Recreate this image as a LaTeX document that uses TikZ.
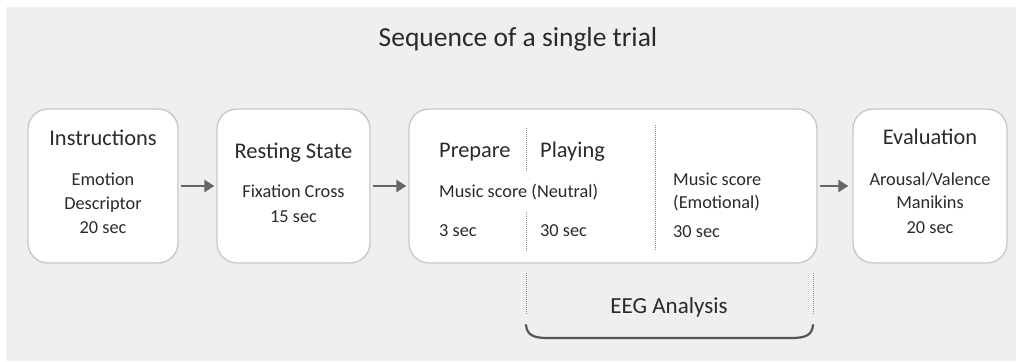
\documentclass[tikz,border=0pt]{standalone}
\usepackage{fontspec}
\setmainfont{Carlito}
\usetikzlibrary{arrows.meta}
\definecolor{pagegray}{HTML}{EFEFEF}
\definecolor{boxline}{HTML}{C9C9C9}
\definecolor{inktext}{HTML}{2A2A2A}
\definecolor{arrowgray}{HTML}{666666}
\definecolor{bracegray}{HTML}{555555}
\definecolor{dotgray}{HTML}{8A8A8A}
\begin{document}
\begin{tikzpicture}[x=1pt,y=-1pt,
  stagebox/.style={draw=boxline,line width=1.4pt,fill=white,rounded corners=20pt,
    inner sep=0pt},
  head/.style={text=inktext,font=\fontsize{22.4}{24}\selectfont,inner sep=0pt,anchor=base},
  body/.style={text=inktext,font=\fontsize{18.3}{20}\selectfont,inner sep=0pt,anchor=base},
  headl/.style={head,anchor=base west},
  bodyl/.style={body,anchor=base west},
  flow/.style={draw=arrowgray,line width=2.8pt,-{Triangle[length=10pt,width=12pt]},
    shorten <=2pt,shorten >=2pt},
  divider/.style={draw=dotgray,line width=0.9pt,dash pattern=on 1pt off 1pt},
  brace/.style={draw=bracegray,line width=2.2pt,line cap=round}
]
\useasboundingbox (0,0) rectangle (1016,361);
\fill[white] (0,0) rectangle (1016,361);
\fill[pagegray] (6,7) rectangle (1016,361);

% heading
\node[text=inktext,font=\fontsize{27.5}{29}\selectfont,inner sep=0pt,anchor=base]
  (title) at (518,46) {Sequence of a single trial};

% stage boxes
\node[stagebox,minimum width=150pt,minimum height=154pt] (instr) at (103,186) {};
\node[stagebox,minimum width=153pt,minimum height=154pt] (rest)  at (293.5,186) {};
\node[stagebox,minimum width=408pt,minimum height=154pt] (task)  at (613,186) {};
\node[stagebox,minimum width=154pt,minimum height=154pt] (eval)  at (930,186) {};

% flow arrows
\draw[flow] (instr.east) -- (rest.west);
\draw[flow] (rest.east) -- (task.west);
\draw[flow,shorten >=4pt] (task.east) -- (eval.west);

% instructions
\node[head] (instrT) at (103,145) {Instructions};
\node[body] (instrA) at (103,185) {Emotion};
\node[body] (instrB) at (103,209) {Descriptor};
\node[body] (instrC) at (103,233) {20 sec};

% resting state
\node[head] (restT) at (293.5,158) {Resting State};
\node[body] (restA) at (293.5,197) {Fixation Cross};
\node[body] (restB) at (293.5,222) {15 sec};

% music task
\node[headl] (prep) at (439,157) {Prepare};
\node[headl] (play) at (540,157) {Playing};
\node[bodyl] (neutral) at (439,197) {Music score (Neutral)};
\node[bodyl] (prepT) at (439,236) {3 sec};
\node[bodyl] (playT) at (540,236) {30 sec};
\node[bodyl] (emoA) at (673,185) {Music score};
\node[bodyl] (emoB) at (673,208) {(Emotional)};
\node[bodyl] (emoT) at (673,237) {30 sec};

\coordinate (d1a) at (526,128); \coordinate (d1b) at (526,172);
\coordinate (d2a) at (526,212); \coordinate (d2b) at (526,251);
\coordinate (d3a) at (655,125); \coordinate (d3b) at (655,250);
\draw[divider] (d1a) -- (d1b);
\draw[divider] (d2a) -- (d2b);
\draw[divider] (d3a) -- (d3b);

% evaluation
\node[head] (evalT) at (930,144) {Evaluation};
\node[body] (evalA) at (930,185) {Arousal/Valence};
\node[body] (evalB) at (930,208) {Manikins};
\node[body] (evalC) at (930,233) {20 sec};

% EEG window
\coordinate (e1a) at (526,273); \coordinate (e1b) at (526,315);
\coordinate (e2a) at (813,273); \coordinate (e2b) at (813,315);
\draw[divider] (e1a) -- (e1b);
\draw[divider] (e2a) -- (e2b);
\node[text=inktext,font=\fontsize{23}{25}\selectfont,inner sep=0pt,anchor=base]
  (eeg) at (669,313) {EEG Analysis};
\coordinate (bL) at (526,325);
\coordinate (bR) at (813,325);
\draw[brace] (bL) .. controls (527,335) and (533,338) .. (548,338)
  -- (791,338) .. controls (806,338) and (812,335) .. (bR);
\end{tikzpicture}
\end{document}
